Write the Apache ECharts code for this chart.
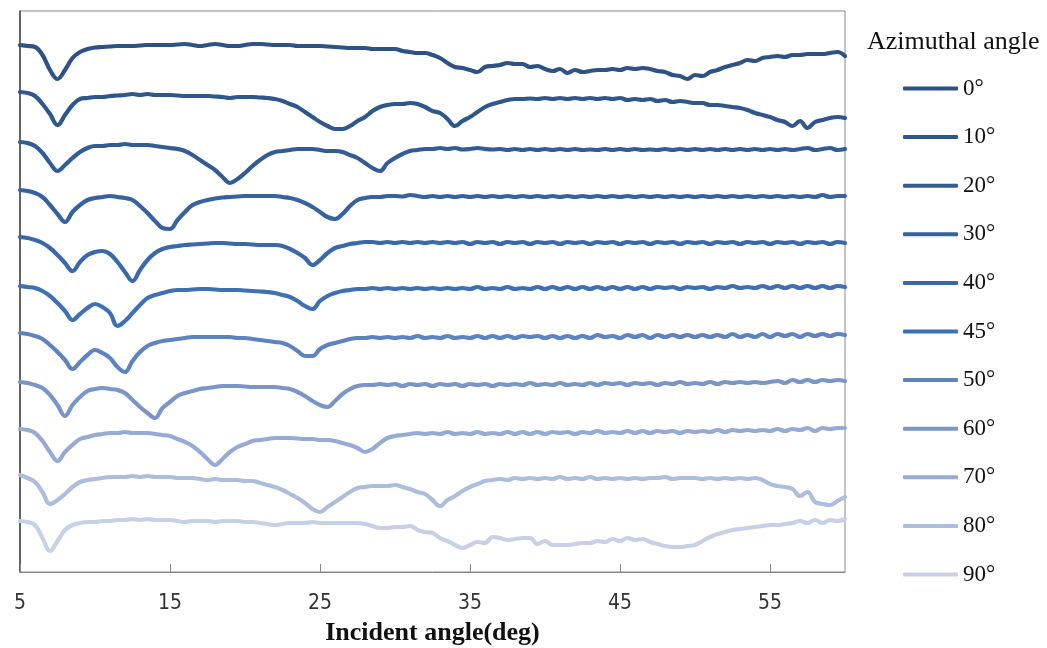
<!DOCTYPE html>
<html>
<head>
<meta charset="utf-8">
<script src="https://cdn.jsdelivr.net/npm/echarts@6/dist/echarts.min.js"></script>
<style>html,body{margin:0;padding:0;background:#fff}#c{width:1047px;height:648px}</style>
</head>
<body>
<div id="c"></div>
<script>
// Incident angle grid (deg): 5.0, 5.5, ... 60.0  (111 points)
const incidentStart = 5, incidentStep = 0.5, incidentCount = 111;
const xTicks = [5, 15, 25, 35, 45, 55];
const seriesNames = ['0°','10°','20°','30°','40°','45°','50°','60°','70°','80°','90°'];

// Vertically offset reflectance traces (arbitrary units), one row = 5 deg
const az0 = [
 527,526,525,517,502,493,502,514,520,523,
 524.5,525,525.5,526,526,526,526.5,527,527,527,
 527,527.5,528,527,526,527,528,527,526,526,
 527,528,528,527.5,527,527,527,526,526,526,
 526,525.5,525,524.5,524,524,524,523,523,523,
 523,521,520,519,519,517,514,509,505,504,
 502,500,505,506,507,509,508,508,505,506,
 503,501,503,499,502,500,501,502,502,503,
 502,504,503,504,503,501,500,497,496,493,
 497,496,500,502,505,507,509,512,511,514,
 515,516,515,517,517,518,518,518,519,520,
 516];
const az10 = [
 480,479,476,468,458,447,457,467,473,474,
 475,475,476,476.5,477,478,477,478,477,477,
 477,476.5,476,476,476,476,475.5,475,474,475,
 475,475,474.5,474,473,471,468,465,460,455,
 450,446,443,443,446,451,455,461,465,467,
 468,468,469,468,465,461,459,453,446,451,
 455,460,465,468,470,472,473,473,473.5,473,
 474,473,474,473,474,473,474,473,474,473,
 474,472,473,472,473,471,472,470,471,470,
 469,469,467,467,466,465,464,462,459,457,
 455,452,450,446,451,444,450,452,454,455,
 454];
const az20 = [
 430,429,426,419,409,401,407,414,420,424,
 426,426,427,427,428,427,427,427,426,425,
 424,423,421,417,412,407,402,395,389,393,
 399,406,412,417,420,421,422,423,423,423,
 422,421,421,420,417,414,409,404,401,409,
 414,418,421,422,423,423,424,423,424,422.5,
 423,424,423,422.5,423,422,423,422,423,422,
 423,422,423,422,423,422,422.5,422,423,422,
 423,422,423,422,422.5,422,423,422,423,422,
 423,422,423,422,423,422,423,422,423,422,
 423,422,423,422,423,424,422,423,424,422,
 423];
const az30 = [
 382,381,379,375,367,358,350,360,367,372,
 374,375,376,375,374,372,366,359,351,344,
 343,352,360,367,370,372,373.5,374.5,375,375.5,
 376,376,376,376,376,375,374,372,369,365,
 360,355,353,358,366,372,374,375,375,376,
 376,375.5,377,376,375,376,375,376,375,376,
 375,376,375,376,375,376,375,376,375,376,
 375,376,375,376,375,376,375,376,375,376,
 375,376,375,376,375,376,375,376,375,376,
 375,376,375,376,375,376,375,376,375,376,
 375,376,375,376,375,376,375,377,375,376,
 376];
const az40 = [
 335,334,332,329,324,317,309,301,310,317,
 320,321,318,310,300,291,302,312,319,323,
 325,326,327,327.5,328,328.5,329,329,328.5,328,
 328,327.5,327,327,327,326,323,319,314,307,
 312,319,324,326,328,329,330,330,329,330,
 329,330,329,330,329,330,329,330,329,330,
 328,330,329,330,328,330,329,330,328,330,
 329,330,328,330,329,330,328,330,329,330,
 328,330,329,330,328,330,329,330,328,330,
 329,330,328,330,329,330,328,330,329,330,
 328,330,329,330,328,330,329,330,328,330,
 329];
const az45 = [
 286,285,284,281,276,269,261,252,258,264,
 268,265,259,246,251,259,267,274,277,279,
 281,282,282,282.5,283,283,282.5,282,282,282,
 281.5,281,280.5,280,279,277,275,271,266,263,
 271,276,279,281,282,283,283,284,283,284,
 283,284,283,284,283,284,283,284,283,284,
 283,285,283,284,283,285,283,284,283,285,
 283,285,283,285,283,285,283,285,283,285,
 283,285,283,285,283,285,284,285,283,285,
 284,285,283,285,284,286,284,285,284,286,
 284,286,284,286,284,286,284,286,284,286,
 285];
const az50 = [
 239,238,236,233,227,220,212,203,210,217,
 222,219,214,205,200,211,220,226,229,231,
 232,233,234,235,235,235,235,235,235,234,
 234,233,232,231,230,229,226,221,216,216,
 223,227,229,231,233,234,234,235,234,235,
 234,235,234,236,234,235,234,236,234,235,
 234,236,234,236,234,236,234,236,235,236,
 234,236,234,236,234,236,234,237,235,236,
 234,237,235,237,234,237,235,237,235,237,
 235,237,235,237,235,238,235,237,235,238,
 235,238,236,238,235,238,236,238,236,238,
 237];
const az60 = [
 190,189,187,184,177,167,156,167,175,181,
 183,184,183,182,179,172,165,159,154,164,
 170,176,179,181,183,184,185,186,186,186,
 185.5,185,185,185,185,184,183,180,176,171,
 167,165,171,178,183,186,187,187,188,187,
 188,186,188,187,188,186,188,187,188,186,
 188,187,188,186,188,187,188,187,189,187,
 188,187,189,187,188,187,189,187,189,188,
 189,187,189,188,189,187,189,188,190,188,
 189,188,190,188,190,189,190,189,190,189,
 190,191,189,192,190,192,190,192,191,192,
 191];
const az70 = [
 143,142,139,131,120,111,120,127,133,135,
 137,138,139,139,140,139,139,139,138,137,
 136,133,130,126,120,113,107,113,120,125,
 128,131,132,133,134,134,134,133.5,133,133,
 132,132,131,129,127,124,120,123,129,134,
 136,137,138,139,138,139,138,140,138,139,
 138,140,138,139,138,140,138,140,138,140,
 138,140,139,140,138,140,139,141,139,140,
 139,141,139,141,139,141,140,141,139,141,
 140,141,140,142,140,142,141,142,141,142,
 141,143,141,143,142,144,141,144,143,144,
 144];
const az80 = [
 97,94,90,80,68,72,78,85,90,92,
 93,94,95,95,95,96,95,96,95,95,
 95,94,94,94,93,92,93,92,92,92,
 91,91,89,87,85,82,78,74,69,63,
 60,65,70,75,80,84,85,86,86,86,
 87,85,83,80,78,72,66,72,76,81,
 85,88,91,92,93,92,94,93,94,93,
 94,93,95,93,94,93,95,93,94,93,
 94,93,94,93,94,94,95,93,94,94,
 94,93,94,93,94,93,94,93,94,92,
 88,86,85,83,76,80,70,68,67,71,
 75];
const az90 = [
 51,50,47,34,21,31,42,47,49,50,
 50,51,51,52,52,53,52,53,52,52,
 52,51,50,51,51,51,50,51,51,51,
 50,50,49,48,47,48,49,49,49,50,
 49,49,49,49,49,49,48,46,44,44,
 45,45,46,42,40,39,34,31,27,24,
 27,30,29,35,34,32,33,34,34,28,
 31,27,27,27,28,29,29,31,30,33,
 31,34,32,33,30,28,26,25,25,26,
 27,31,35,38,40,42,43,44,45,46,
 47,47,48,49,51,49,52,49,52,51,
 53];

const allValues = [az0, az10, az20, az30, az40, az45, az50, az60, az70, az80, az90];
const colors = ['#2d5283','#2f578b','#325c95','#3662a0','#3a69ab','#3e70b4','#5e84c0','#7a96c9','#95abd5','#adbddd','#c6d0e6'];

const incident = [];
for (let i = 0; i < incidentCount; i++) incident.push(incidentStart + i * incidentStep);

const series = seriesNames.map((name, k) => ({
  name: name,
  type: 'line',
  data: allValues[k].map((v, i) => [incident[i], v]),
  symbol: 'none',
  showSymbol: false,
  smooth: 0.4,
  lineStyle: { width: 4.2, color: colors[k], cap: 'round', join: 'round' },
  itemStyle: { color: colors[k] },
  emphasis: { disabled: true },
  animation: false
}));

const chart = echarts.init(document.getElementById('c'), null, { renderer: 'canvas' });
chart.setOption({
  animation: false,
  backgroundColor: '#fff',
  title: {
    text: 'Azimuthal angle',
    left: 862, top: 24,
    textStyle: { fontFamily: 'Liberation Serif, Times New Roman, serif', fontSize: 26, fontWeight: 'normal', color: '#111' }
  },
  legend: {
    orient: 'vertical',
    left: 898, top: 72,
    icon: 'roundRect',
    itemWidth: 55, itemHeight: 4, itemGap: 25.6,
    selectedMode: false,
    data: seriesNames,
    textStyle: { fontFamily: 'Liberation Serif, Times New Roman, serif', fontSize: 23, color: '#111' }
  },
  grid: { left: 20, right: 202, top: 11, bottom: 76, show: true, borderColor: '#888', borderWidth: 1, containLabel: false, outerBoundsMode: 'none' },
  xAxis: {
    type: 'value', min: 5, max: 60, interval: 10,
    name: 'Incident angle(deg)', nameLocation: 'middle', nameGap: 48,
    nameTextStyle: { fontFamily: 'Liberation Serif, Times New Roman, serif', fontWeight: 'bold', fontSize: 26, color: '#111' },
    axisLine: { show: true, lineStyle: { color: '#888', width: 1 } },
    axisTick: { show: true, inside: true, length: 8, lineStyle: { color: '#888' } },
    axisLabel: { showMaxLabel: false, margin: 21, fontFamily: 'Liberation Sans Narrow, DejaVu Sans Condensed, Arial Narrow, sans-serif', fontSize: 21, color: '#333' },
    splitLine: { show: false }
  },
  yAxis: {
    type: 'value', min: 0, max: 561,
    axisLine: { show: true, lineStyle: { color: '#444', width: 1.5 } },
    axisTick: { show: false }, axisLabel: { show: false }, splitLine: { show: false }
  },
  series: series
});
</script>
</body>
</html>
